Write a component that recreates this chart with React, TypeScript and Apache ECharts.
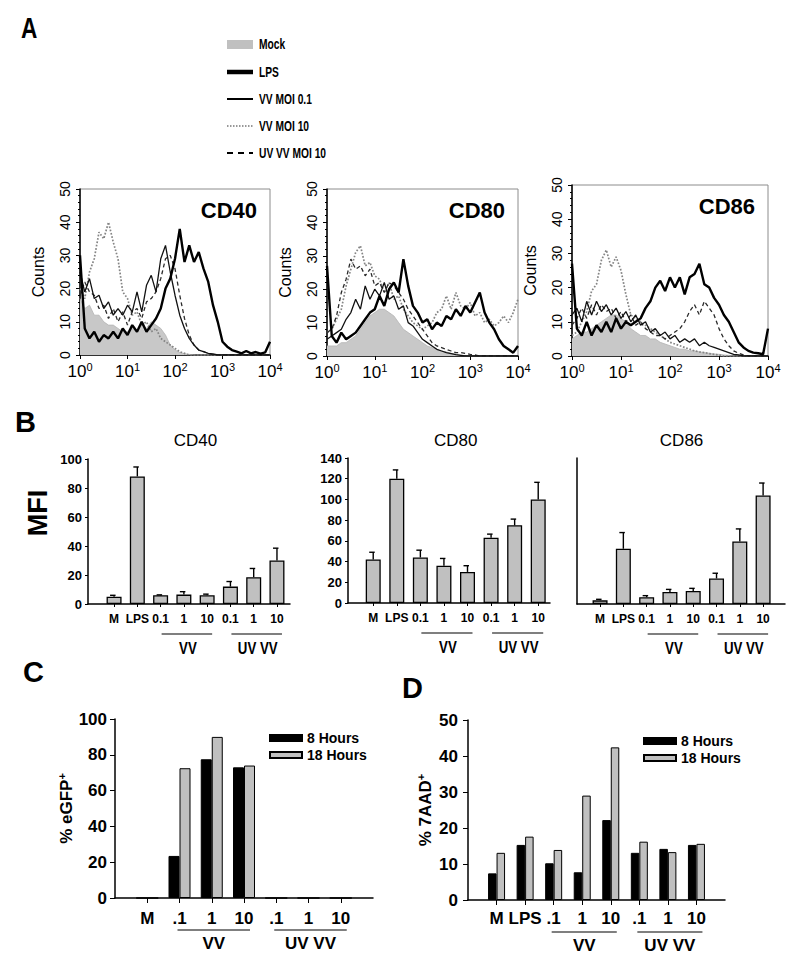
import React, { useEffect, useRef } from 'react';
import * as echarts from 'echarts';

const SANS = "'Liberation Sans', Arial, Helvetica, sans-serif";

// ---------------- Panel A: flow cytometry histograms ----------------
// fluorescence channel, as log10 of intensity (10^0 .. 10^4)
const logChannels = [0, 0.1, 0.2, 0.3, 0.4, 0.5, 0.6, 0.7, 0.8, 0.9, 1, 1.1, 1.2, 1.3, 1.4, 1.5, 1.6, 1.7, 1.8, 1.9, 2, 2.1, 2.2, 2.3, 2.4, 2.5, 2.6, 2.7, 2.8, 2.9, 3, 3.1, 3.2, 3.3, 3.4, 3.5, 3.6, 3.7, 3.8, 3.9, 4];
const histMarkers = ['CD40', 'CD80', 'CD86'];
const histTraceNames = ['Mock', 'LPS', 'VV MOI 0.1', 'VV MOI 10', 'UV VV MOI 10'];
const countTicks = [0, 50];

const cd40Mock = [17, 14, 15, 12, 12, 10, 9, 9, 8, 7, 7, 8, 7, 9, 8, 10, 9, 8, 6, 3, 1.5, 0.8, 0.4, 0.2, 0, 0, 0, 0, 0, 0, 0, 0, 0, 0, 0, 0, 0, 0, 0, 0, 0];
const cd40Lps = [30, 8, 5, 7, 4, 6, 5, 7, 5, 8, 6, 9, 7, 10, 7, 9, 11, 14, 20, 23, 29, 38, 28, 33, 28, 31, 26, 22, 15, 10, 4, 2.5, 1.5, 1, 0.5, 1.2, 0.5, 0.9, 0.4, 0.8, 4];
const cd40Vv01 = [25, 19, 23, 17, 18, 14, 16, 12, 14, 12, 15, 13, 19, 13, 21, 24, 19, 29, 33, 25, 18, 12, 8, 5, 3, 1.5, 1, 0.5, 0.3, 0, 0, 0, 0, 0, 0, 0, 0, 0, 0, 0, 0];
const cd40Vv10 = [20, 17, 25, 29, 37, 35, 40, 34, 29, 19, 17, 12, 13, 9, 10, 7, 8, 5, 4, 3, 2, 1, 0.5, 0, 0, 0, 0, 0, 0, 0, 0, 0, 0, 0, 0, 0, 0, 0, 0, 0, 0];
const cd40UvVv = [18, 22, 19, 18, 14, 15, 11, 14, 10, 13, 9, 13, 14, 11, 16, 17, 19, 23, 29, 30, 26, 18, 11, 6, 3, 1.5, 1, 0.5, 0, 0, 0, 0, 0, 0, 0, 0, 0, 0, 0, 0, 0];

const cd80Mock = [3, 3, 3, 4, 4, 5, 6, 8, 10, 12, 13, 14, 14, 13, 12, 10, 8, 7, 6, 5, 4, 3, 2.5, 2, 1.5, 1.2, 0.8, 0.5, 0.3, 0, 0, 0, 0, 0, 0, 0, 0, 0, 0, 0, 0];
const cd80Lps = [27, 6, 4, 7, 5, 6, 7, 9, 11, 13, 14, 18, 15, 20, 22, 19, 29, 21, 15, 13, 10, 11, 8, 10, 9, 12, 11, 14, 12, 15, 13, 16, 19, 13, 10, 8, 5, 3, 2, 1, 3];
const cd80Vv01 = [5, 6, 7, 8, 11, 13, 17, 14, 21, 17, 20, 18, 22, 17, 18, 14, 15, 10, 9, 7, 5, 4, 3, 2, 1.5, 1, 0.7, 0.4, 0.2, 0, 0, 0, 0, 0, 0, 0, 0, 0, 0, 0, 0];
const cd80Vv10 = [7, 8, 11, 14, 21, 26, 31, 33, 27, 28, 24, 23, 19, 22, 17, 18, 14, 12, 10, 9, 8, 9, 10, 13, 14, 18, 14, 19, 15, 14, 16, 12, 13, 10, 11, 9, 10, 12, 10, 13, 17];
const cd80UvVv = [7, 8, 12, 19, 23, 29, 26, 27, 24, 26, 21, 22, 19, 22, 21, 19, 17, 14, 12, 10, 8, 6, 4, 3, 2.5, 2, 1.5, 1, 1, 0.8, 0.5, 0.3, 0, 0, 0, 0, 0, 0, 0, 0, 0];

const cd86Mock = [5, 6, 7, 7, 8, 9, 10, 11, 12, 12, 11, 10, 8, 7, 6, 6, 5, 5, 4, 3.5, 3, 2.5, 2, 2, 1.5, 1.5, 1.2, 1, 0.8, 0.6, 0.5, 0.3, 0.2, 0, 0, 0, 0, 0, 0, 0, 0];
const cd86Lps = [27, 8, 6, 10, 6, 9, 7, 10, 7, 11, 8, 10, 9, 10, 11, 14, 16, 20, 22, 19, 23, 20, 23, 18, 23, 24, 27, 21, 20, 17, 15, 12, 10, 7, 4, 2.5, 1.5, 1, 0.8, 0.5, 8];
const cd86Vv01 = [12, 14, 10, 16, 12, 16, 13, 15, 12, 14, 11, 13, 10, 12, 9, 10, 7, 8, 6, 7, 5, 6, 4, 5, 4, 5, 3, 4, 3, 2.5, 2, 1.5, 1, 0.5, 0.3, 0, 0, 0, 0, 0, 0];
const cd86Vv10 = [6, 7, 10, 13, 19, 21, 28, 31, 26, 29, 25, 18, 12, 11, 10, 9, 8, 7, 6, 5, 4, 3.5, 3, 2.5, 2, 1.5, 1.2, 1, 0.7, 0.5, 0.3, 0, 0, 0, 0, 0, 0, 0, 0, 0, 0];
const cd86UvVv = [9, 11, 14, 11, 15, 12, 15, 13, 14, 11, 13, 10, 12, 9, 10, 8, 7, 6, 6, 5, 6, 7, 8, 10, 13, 15, 12, 16, 14, 12, 8, 5, 3, 1.5, 0.8, 0.3, 0, 0, 0, 0, 0];

const histData = [
  [cd40Mock, cd40Lps, cd40Vv01, cd40Vv10, cd40UvVv],
  [cd80Mock, cd80Lps, cd80Vv01, cd80Vv10, cd80UvVv],
  [cd86Mock, cd86Lps, cd86Vv01, cd86Vv10, cd86UvVv],
];

// ---------------- Panel B: MFI bars ----------------
const mfiMarkers = ['CD40', 'CD80', 'CD86'];
const mfiCategories = ['M', 'LPS', '0.1', '1', '10', '0.1', '1', '10'];
const mfiPositions = [0, 1, 2, 3, 4, 5, 6, 7];
const cd40Mfi = [5, 88, 6, 6.5, 6, 12, 18.5, 30];
const cd40MfiErr = [1, 6.5, 0.3, 2, 0.8, 3.5, 6, 8.5];
const cd80Mfi = [42, 120, 44, 36, 30, 63, 75, 100];
const cd80MfiErr = [7, 8.5, 7, 7, 6, 3.5, 6, 16.5];
const cd86Mfi = [3.5, 53, 6.5, 11.5, 12.5, 24.5, 60, 104];
const cd86MfiErr = [1, 15.5, 1.5, 2.5, 2.5, 5, 12, 12];
const mfiValues = [cd40Mfi, cd80Mfi, cd86Mfi];
const mfiErrors = [cd40MfiErr, cd80MfiErr, cd86MfiErr];
const mfiMax = [100, 140, 140];

// ---------------- Panel C: % eGFP+ ----------------
const egfpCategories = ['', 'M', 'VV .1', 'VV 1', 'VV 10', 'UV .1', 'UV 1', 'UV 10', ''];
const egfpLabels = ['', 'M', '.1', '1', '10', '.1', '1', '10', ''];
const egfp8h = [null, 0, 23.5, 77.5, 73, 0, 0, 0, null];
const egfp18h = [null, 0, 72.5, 90, 74, 0, 0, 0, null];

// ---------------- Panel D: % 7AAD+ ----------------
const aadCategories = ['', 'M', 'LPS', 'VV .1', 'VV 1', 'VV 10', 'UV .1', 'UV 1', 'UV 10', ''];
const aadLabels = ['', 'M', 'LPS', '.1', '1', '10', '.1', '1', '10', ''];
const aad8h = [null, 7.4, 15.3, 10.2, 7.7, 22.2, 13.1, 14.2, 15.3, null];
const aad18h = [null, 13.1, 17.6, 13.9, 29, 42.4, 16.2, 13.3, 15.6, null];

const timeNames = ['8 Hours', '18 Hours'];

// ---------------- layout ----------------
const histGrids = [
  { left: 80, top: 189, width: 190, height: 166 },
  { left: 327, top: 189, width: 191, height: 167 },
  { left: 572, top: 185, width: 196, height: 171 },
];
const mfiGrids = [
  { left: 88, top: 459, width: 202, height: 145 },
  { left: 348, top: 458, width: 202, height: 145 },
  { left: 577, top: 458, width: 208, height: 146 },
];
const mfiRange = [
  [-1.12, 7.56],
  [-1.07, 7.5],
  [-0.99, 7.94],
];
const cGrid = { left: 115, top: 719, width: 258, height: 179 };
const dGrid = { left: 468, top: 720, width: 257, height: 180 };

const traceStyles: any[] = [
  { lineStyle: { color: '#b4b4b4', width: 0.8 }, areaStyle: { color: '#c8c8c8', opacity: 1 }, z: 1 },
  { lineStyle: { color: '#000', width: 2.4 }, z: 6 },
  { lineStyle: { color: '#111', width: 1.3 }, z: 5 },
  { lineStyle: { color: '#858585', width: 1.7, type: 'dotted' }, z: 3 },
  { lineStyle: { color: '#2a2a2a', width: 1.3, type: [4, 3] }, z: 4 },
];

function buildOption() {
  const grid: any[] = [];
  const xAxis: any[] = [];
  const yAxis: any[] = [];
  const series: any[] = [];

  // Panel A
  histGrids.forEach((g, p) => {
    grid.push({ ...g, show: true, borderColor: '#8c8c8c', borderWidth: 1 });
    xAxis.push({
      gridIndex: p, type: 'value', min: 0, max: 4, interval: 1,
      axisLine: { onZero: false, lineStyle: { color: '#000', width: 1.5 } },
      axisTick: { show: true, length: 4, lineStyle: { color: '#000' } },
      splitLine: { show: false },
      axisLabel: {
        color: '#000', fontFamily: SANS, fontSize: 17, margin: 6,
        formatter: (v: number) => `10{s|${v}}`,
        rich: { s: { fontSize: 11, fontFamily: SANS, color: '#000', padding: [0, 0, 10, 0] } },
      },
    });
    yAxis.push({
      gridIndex: p, type: 'value', min: countTicks[0], max: countTicks[1], interval: 10,
      name: 'Counts', nameLocation: 'middle', nameGap: 34,
      nameTextStyle: { fontSize: 16, fontFamily: SANS, color: '#000' },
      axisLine: { show: true, onZero: false, lineStyle: { color: '#000', width: 1.5 } },
      axisTick: { show: true, length: 4, lineStyle: { color: '#000' } },
      minorTick: { show: true, splitNumber: 5, length: 2, lineStyle: { color: '#000' } },
      splitLine: { show: false },
      axisLabel: { rotate: 90, color: '#000', fontFamily: SANS, fontSize: 14, margin: 8 },
    });
    histData[p].forEach((vals, t) => {
      series.push({
        type: 'line', name: histTraceNames[t], xAxisIndex: p, yAxisIndex: p,
        data: logChannels.map((e, i) => [e, vals[i]]),
        showSymbol: false, symbol: 'none', silent: true,
        ...traceStyles[t],
      });
    });
  });

  // Panel B
  mfiGrids.forEach((g, k) => {
    const idx = 3 + k;
    grid.push({ ...g });
    xAxis.push({
      gridIndex: idx, type: 'value', min: mfiRange[k][0], max: mfiRange[k][1],
      axisLine: { onZero: false, lineStyle: { color: '#000', width: 1.5 } },
      axisTick: { show: true, length: 3, customValues: mfiPositions, lineStyle: { color: '#000' } },
      splitLine: { show: false },
      axisLabel: {
        customValues: mfiPositions,
        formatter: (v: number) => mfiCategories[Math.round(v)] ?? '',
        color: '#000', fontFamily: SANS, fontWeight: 'bold', fontSize: 12, margin: 9,
      },
    });
    yAxis.push({
      gridIndex: idx, type: 'value', min: 0, max: mfiMax[k], interval: 20,
      axisLine: { show: true, onZero: false, lineStyle: { color: '#000', width: 1.5 } },
      axisTick: { show: k < 2, length: 3, lineStyle: { color: '#000' } },
      splitLine: { show: false },
      axisLabel: { show: k < 2, color: '#000', fontFamily: SANS, fontWeight: 'bold', fontSize: 13, margin: 6 },
    });
    series.push({
      type: 'bar', name: mfiMarkers[k] + ' MFI', xAxisIndex: idx, yAxisIndex: idx,
      data: mfiValues[k].map((v, i) => [mfiPositions[i], v]), barWidth: 15,
      itemStyle: { color: '#c0c0c0', borderColor: '#000', borderWidth: 1.3 },
      silent: true,
    });
    series.push({
      type: 'custom', name: mfiMarkers[k] + ' SEM', xAxisIndex: idx, yAxisIndex: idx,
      data: mfiValues[k].map((v, i) => [mfiPositions[i], v, v + mfiErrors[k][i]]),
      encode: { x: 0, y: [1, 2] }, z: 3, silent: true,
      renderItem: (_params: any, api: any) => {
        const b = api.coord([api.value(0), api.value(1)]);
        const t = api.coord([api.value(0), api.value(2)]);
        const st = { stroke: '#000', lineWidth: 1.4 };
        return {
          type: 'group',
          children: [
            { type: 'line', shape: { x1: b[0], y1: b[1], x2: t[0], y2: t[1] }, style: st },
            { type: 'line', shape: { x1: t[0] - 4, y1: t[1], x2: t[0] + 1.5, y2: t[1] }, style: st },
          ],
        };
      },
    });
  });

  // Panels C and D
  const panels = [
    { g: cGrid, cats: egfpCategories, labels: egfpLabels, s8: egfp8h, s18: egfp18h, max: 100, interval: 20, bw: 11, name: '% eGFP{sup|+}', gap: 38, lm: 12, ym: 8 },
    { g: dGrid, cats: aadCategories, labels: aadLabels, s8: aad8h, s18: aad18h, max: 50, interval: 10, bw: 8.5, name: '% 7AAD{sup|+}', gap: 33, lm: 10, ym: 10 },
  ];
  panels.forEach((pp, k) => {
    const idx = 6 + k;
    const n = pp.cats.length;
    grid.push({ ...pp.g });
    xAxis.push({
      gridIndex: idx, type: 'category', data: pp.cats, boundaryGap: false,
      axisLine: { onZero: false, lineStyle: { color: '#000', width: 1.5 } },
      axisTick: { show: true, length: 5, interval: (i: number) => i > 0 && i < n - 1, lineStyle: { color: '#000' } },
      splitLine: { show: false },
      axisLabel: {
        interval: 0, formatter: (_v: string, i: number) => pp.labels[i],
        color: '#000', fontFamily: SANS, fontWeight: 'bold', fontSize: 17, margin: pp.lm,
      },
    });
    yAxis.push({
      gridIndex: idx, type: 'value', min: 0, max: pp.max, interval: pp.interval,
      name: pp.name, nameLocation: 'middle', nameGap: pp.gap,
      nameTextStyle: {
        fontSize: 17, fontWeight: 'bold', fontFamily: SANS, color: '#000',
        rich: { sup: { fontSize: 11, fontWeight: 'bold', fontFamily: SANS, color: '#000', padding: [0, 0, 9, 0] } },
      },
      axisLine: { show: true, onZero: false, lineStyle: { color: '#000', width: 1.5 } },
      axisTick: { show: true, length: 5, lineStyle: { color: '#000' } },
      splitLine: { show: false },
      axisLabel: { color: '#000', fontFamily: SANS, fontWeight: 'bold', fontSize: 17, margin: pp.ym },
    });
    series.push({
      type: 'bar', name: timeNames[0], xAxisIndex: idx, yAxisIndex: idx, data: pp.s8,
      barWidth: pp.bw, barGap: '0%',
      itemStyle: { color: '#000', borderColor: '#000', borderWidth: 1 }, silent: true,
    });
    series.push({
      type: 'bar', name: timeNames[1], xAxisIndex: idx, yAxisIndex: idx, data: pp.s18,
      barWidth: pp.bw, barGap: '0%',
      itemStyle: { color: '#c0c0c0', borderColor: '#000', borderWidth: 1 }, silent: true,
    });
  });

  const legendCommon = {
    orient: 'vertical', itemWidth: 32, itemHeight: 6, itemGap: 3, icon: 'rect',
    data: timeNames, selectedMode: false,
    textStyle: { color: '#000', fontFamily: SANS, fontWeight: 'bold', fontSize: 14 },
  };

  return {
    animation: false,
    backgroundColor: '#fff',
    grid, xAxis, yAxis, series,
    legend: [
      { ...legendCommon, left: 264, top: 726 },
      { ...legendCommon, left: 638, top: 729 },
    ],
  };
}

function buildGraphics() {
  const els: any[] = [];
  const txt = (x: number, y: number, text: string, size: number, opts: any = {}) => {
    els.push({
      type: 'text', x, y, rotation: opts.rotation || 0, scaleX: opts.sx || 1, silent: true,
      style: {
        text, fill: '#000', fontSize: size, fontFamily: SANS,
        fontWeight: opts.weight || 'normal',
        align: opts.align || 'center', textAlign: opts.align || 'center',
        verticalAlign: 'middle', textVerticalAlign: 'middle',
      },
    });
  };
  const line = (x1: number, y1: number, x2: number, y2: number, style: any) => {
    els.push({ type: 'line', silent: true, shape: { x1, y1, x2, y2 }, style: { stroke: '#000', lineWidth: 1, ...style } });
  };

  // panel letters
  txt(21, 28, 'A', 29, { weight: 'bold', align: 'left', sx: 0.78 });
  txt(15, 422, 'B', 29, { weight: 'bold', align: 'left' });
  txt(23, 672, 'C', 29, { weight: 'bold', align: 'left' });
  txt(402, 688, 'D', 29, { weight: 'bold', align: 'left' });

  // Panel A legend
  const legY = [44, 72, 99, 126, 153];
  els.push({ type: 'rect', silent: true, shape: { x: 227, y: legY[0] - 4, width: 26, height: 9 }, style: { fill: '#c0c0c0' } });
  line(227, legY[1], 253, legY[1], { lineWidth: 4.5 });
  line(227, legY[2], 253, legY[2], { lineWidth: 2 });
  line(227, legY[3], 253, legY[3], { lineWidth: 1.6, stroke: '#777', lineDash: [1.5, 1.5] });
  line(227, legY[4], 253, legY[4], { lineWidth: 2, lineDash: [6, 5] });
  histTraceNames.forEach((nm, i) => txt(259, legY[i], nm, 15.5, { weight: 'bold', align: 'left', sx: 0.66 }));

  // histogram marker titles
  histGrids.forEach((g, p) => {
    txt(g.left + g.width - 13, g.top + 21, histMarkers[p], 22, { weight: 'bold', align: 'right' });
  });

  // Panel B titles, group underlines and MFI
  mfiGrids.forEach((g, k) => {
    const s = g.width / (mfiRange[k][1] - mfiRange[k][0]);
    const cx = (v: number) => g.left + (v - mfiRange[k][0]) * s;
    txt(cx(3.5), 440, mfiMarkers[k], 17);
    const yl = g.top + g.height + 30;
    line(cx(2) + 1, yl, cx(4) + 5, yl, { lineWidth: 1.2 });
    line(cx(5) + 1, yl, cx(7) + 5, yl, { lineWidth: 1.2 });
    txt((cx(2) + cx(4)) / 2 + 4, yl + 14, 'VV', 17, { weight: 'bold', sx: 0.78 });
    txt((cx(5) + cx(7)) / 2 + 4, yl + 14, 'UV VV', 17, { weight: 'bold', sx: 0.78 });
  });
  txt(38, 513, 'MFI', 27, { weight: 'bold', rotation: Math.PI / 2 });

  // Panel C / D group underlines
  const groupMarks = [
    { g: cGrid, n: egfpCategories.length, a: [2, 4], b: [5, 7], y: 930, ty: 943 },
    { g: dGrid, n: aadCategories.length, a: [3, 5], b: [6, 8], y: 932, ty: 945 },
  ];
  groupMarks.forEach((gm) => {
    const step = gm.g.width / (gm.n - 1);
    const cx = (i: number) => gm.g.left + i * step;
    line(cx(gm.a[0]) - 2, gm.y, cx(gm.a[1]) + 6, gm.y, { lineWidth: 1.2 });
    line(cx(gm.b[0]) - 2, gm.y, cx(gm.b[1]) + 6, gm.y, { lineWidth: 1.2 });
    txt((cx(gm.a[0]) + cx(gm.a[1])) / 2 + 2, gm.ty, 'VV', 17, { weight: 'bold' });
    txt((cx(gm.b[0]) + cx(gm.b[1])) / 2 + 2, gm.ty, 'UV VV', 17, { weight: 'bold' });
  });

  return els;
}

export default function App() {
  const ref = useRef<HTMLDivElement>(null);
  useEffect(() => {
    document.body.style.margin = '0';
    const chart = echarts.init(ref.current as HTMLDivElement, null, { renderer: 'svg' });
    const opt: any = buildOption();
    opt.graphic = { elements: buildGraphics() };
    chart.setOption(opt);
    return () => chart.dispose();
  }, []);
  return <div ref={ref} style={{ width: 800, height: 961 }} />;
}
